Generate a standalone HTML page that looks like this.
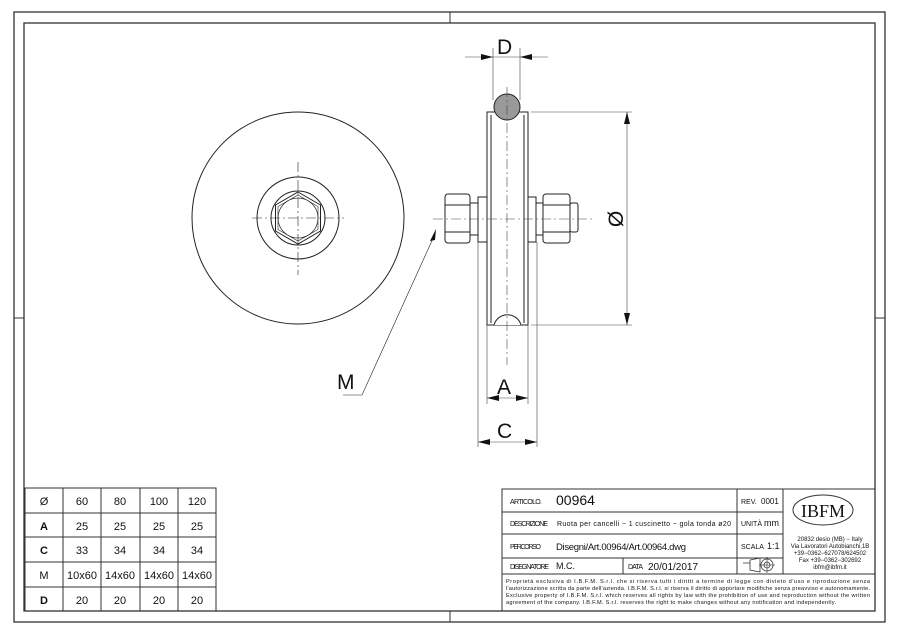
<!DOCTYPE html>
<html><head><meta charset="utf-8"><style>
html,body{margin:0;padding:0;background:#fff;}
svg{display:block;font-family:"Liberation Sans",sans-serif;}
text{fill:#111;}
</style></head><body>
<svg width="900" height="635" viewBox="0 0 900 635" xmlns="http://www.w3.org/2000/svg">
<g fill="none" stroke="#333">
<rect x="14" y="12" width="871" height="610" stroke-width="1.3"/>
<rect x="24" y="23" width="851" height="588" stroke-width="1.3"/>
<line x1="450" y1="12" x2="450" y2="23"/><line x1="450" y1="611" x2="450" y2="622"/>
<line x1="14" y1="318" x2="24" y2="318"/><line x1="875" y1="318" x2="885" y2="318"/>
</g>
<!-- front view -->
<g fill="none" stroke="#222" stroke-width="1">
<circle cx="298" cy="218" r="106"/>
<circle cx="298" cy="218" r="41"/>
<circle cx="298" cy="218" r="27"/>
<polygon points="298,192 320.5,205 320.5,231 298,244 275.5,231 275.5,205"/>
<polygon points="298,195 318,206.5 318,229.5 298,241 278,229.5 278,206.5" stroke-width="0.6"/>
<circle cx="298" cy="218" r="20" stroke-width="0.7"/>
<g stroke-width="0.6" stroke-dasharray="10,3,2,3">
<line x1="252" y1="218" x2="344" y2="218"/><line x1="298" y1="162" x2="298" y2="275"/>
</g>
<polyline points="343,395 362,395 435,234" stroke-width="0.6"/>
</g>
<polygon points="436,229 430,241 435,240" fill="#111"/>
<text x="337" y="389" font-size="21">M</text>
<!-- side view -->
<g stroke="#222" stroke-width="1" fill="#fff">
<rect x="487" y="112" width="41" height="213"/>
<rect x="478" y="197" width="9" height="45"/>
<rect x="470" y="203" width="8" height="32"/>
<rect x="445" y="194" width="25" height="49" rx="3"/>
<line x1="445" y1="205" x2="470" y2="205"/><line x1="445" y1="232" x2="470" y2="232"/>
<rect x="528" y="197" width="8" height="45"/>
<rect x="536" y="203" width="7" height="32"/>
<rect x="543" y="194" width="27" height="49" rx="3"/>
<line x1="543" y1="205" x2="570" y2="205"/><line x1="543" y1="232" x2="570" y2="232"/>
<rect x="570" y="203" width="8" height="29" rx="2"/>
<line x1="491" y1="115" x2="491" y2="323" fill="none"/>
<line x1="524" y1="115" x2="524" y2="323" fill="none"/>
<path d="M494,325 A14,14 0 0 1 521,325" fill="#fff"/>
<circle cx="507" cy="107" r="13" fill="#999"/>
</g>
<g stroke="#444" stroke-width="0.6" fill="none">
<line x1="507" y1="87" x2="507" y2="365" stroke-dasharray="10,3,2,3"/>
<line x1="433" y1="219" x2="595" y2="219" stroke-dasharray="10,3,2,3"/>
<line x1="493" y1="48" x2="493" y2="100"/><line x1="520" y1="48" x2="520" y2="100"/>
<line x1="465" y1="57" x2="548" y2="57"/>
<line x1="531" y1="112" x2="632" y2="112"/><line x1="531" y1="325" x2="632" y2="325"/>
<line x1="627" y1="112" x2="627" y2="325"/>
<line x1="487" y1="325" x2="487" y2="404"/><line x1="528" y1="325" x2="528" y2="404"/>
<line x1="487" y1="398" x2="528" y2="398"/>
<line x1="478" y1="242" x2="478" y2="447"/><line x1="537" y1="242" x2="537" y2="447"/>
<line x1="478" y1="442" x2="537" y2="442"/>
</g>
<g fill="#111">
<polygon points="493,57 481,54 481,60"/><polygon points="520,57 532,54 532,60"/>
<polygon points="627,112 624,124 630,124"/><polygon points="627,325 624,313 630,313"/>
<polygon points="487,398 499,395 499,401"/><polygon points="528,398 516,395 516,401"/>
<polygon points="478,442 490,439 490,445"/><polygon points="537,442 525,439 525,445"/>
</g>
<text x="497" y="54" font-size="21">D</text>
<text x="497" y="394" font-size="21">A</text>
<text x="497" y="438" font-size="21">C</text>
<text x="0" y="0" font-size="21" transform="translate(623,219) rotate(-90)" text-anchor="middle">Ø</text>
<!-- table -->
<g stroke="#333" stroke-width="1" fill="none">
<rect x="25" y="488" width="191" height="123"/>
<line x1="63" y1="488" x2="63" y2="611"/><line x1="101" y1="488" x2="101" y2="611"/>
<line x1="140" y1="488" x2="140" y2="611"/><line x1="178" y1="488" x2="178" y2="611"/>
<line x1="25" y1="513" x2="216" y2="513"/><line x1="25" y1="537" x2="216" y2="537"/>
<line x1="25" y1="562" x2="216" y2="562"/><line x1="25" y1="587" x2="216" y2="587"/>
</g>
<g font-size="11" text-anchor="middle">
<text x="44" y="505">Ø</text><text x="82" y="505">60</text><text x="120" y="505">80</text><text x="159" y="505">100</text><text x="197" y="505">120</text>
<text x="44" y="530" font-weight="bold">A</text><text x="82" y="530">25</text><text x="120" y="530">25</text><text x="159" y="530">25</text><text x="197" y="530">25</text>
<text x="44" y="554" font-weight="bold">C</text><text x="82" y="554">33</text><text x="120" y="554">34</text><text x="159" y="554">34</text><text x="197" y="554">34</text>
<text x="44" y="579">M</text><text x="82" y="579">10x60</text><text x="120" y="579">14x60</text><text x="159" y="579">14x60</text><text x="197" y="579">14x60</text>
<text x="44" y="604" font-weight="bold">D</text><text x="82" y="604">20</text><text x="120" y="604">20</text><text x="159" y="604">20</text><text x="197" y="604">20</text>
</g>
<!-- title block -->
<g stroke="#333" stroke-width="1" fill="none">
<rect x="502" y="489" width="373" height="122"/>
<line x1="502" y1="512" x2="783" y2="512"/><line x1="502" y1="534" x2="783" y2="534"/>
<line x1="502" y1="558" x2="783" y2="558"/><line x1="502" y1="574" x2="875" y2="574"/>
<line x1="737" y1="489" x2="737" y2="574"/><line x1="783" y1="489" x2="783" y2="574"/>
<line x1="623" y1="558" x2="623" y2="574"/>
<ellipse cx="823" cy="510" rx="30" ry="15"/>
<path d="M743,563 L750,563 M750,560 L750,570 L760,572 L760,558 L750,560" stroke-width="0.8"/>
<circle cx="767" cy="565" r="6" stroke-width="0.8"/><circle cx="767" cy="565" r="3" stroke-width="0.8"/>
<line x1="759" y1="565" x2="775" y2="565" stroke-width="0.6"/><line x1="767" y1="557" x2="767" y2="573" stroke-width="0.6"/>
</g>
<g font-size="7">
<text x="510" y="504" textLength="32">ARTICOLO.</text>
<text x="556" y="505" font-size="14" fill="#444">00964</text>
<text x="741" y="504">REV.</text><text x="761" y="504" font-size="8">0001</text>
<text x="510" y="526" textLength="38">DESCRIZIONE</text>
<text x="557" y="526" textLength="174">Ruota per cancelli − 1 cuscinetto − gola tonda ø20</text>
<text x="741" y="526">UNITÀ</text><text x="764" y="526" font-size="9">mm</text>
<text x="510" y="549" textLength="31">PERCORSO</text>
<text x="556" y="550" font-size="9.5" textLength="130">Disegni/Art.00964/Art.00964.dwg</text>
<text x="741" y="549">SCALA</text><text x="767" y="549" font-size="9">1:1</text>
<text x="510" y="569" textLength="39">DISEGNATORE</text><text x="556" y="569" font-size="9">M.C.</text>
<text x="628" y="569" textLength="15">DATA</text><text x="648" y="570" font-size="10">20/01/2017</text>
<text x="823" y="517" font-size="18" text-anchor="middle" style="font-family:'Liberation Serif',serif">IBFM</text>
<g font-size="6" text-anchor="middle">
<text x="830" y="541">20832 desio (MB) − Italy</text>
<text x="830" y="548">Via Lavoratori Autobianchi,1B</text>
<text x="830" y="555">+39−0362−627078/624502</text>
<text x="830" y="562">Fax +39−0362−302692</text>
<text x="830" y="569">ibfm@ibfm.it</text>
</g>
<g font-size="5.6">
<text x="506" y="583" textLength="364">Proprietà esclusiva di I.B.F.M. S.r.l. che si riserva tutti i diritti a termine di legge con divieto d'uso e riproduzione senza</text>
<text x="506" y="590" textLength="364">l'autorizzazione scritta da parte dell'azienda. I.B.F.M. S.r.l. si riserva il diritto di apportare modifiche senza preavviso e autonomamente.</text>
<text x="506" y="597" textLength="364">Exclusive property of I.B.F.M. S.r.l. which reserves all rights by law with the prohibition of use and reproduction without the written</text>
<text x="506" y="604" textLength="330">agreement of the company. I.B.F.M. S.r.l. reserves the right to make changes without any notification and independently.</text>
</g>
</g>
</svg>
</body></html>
